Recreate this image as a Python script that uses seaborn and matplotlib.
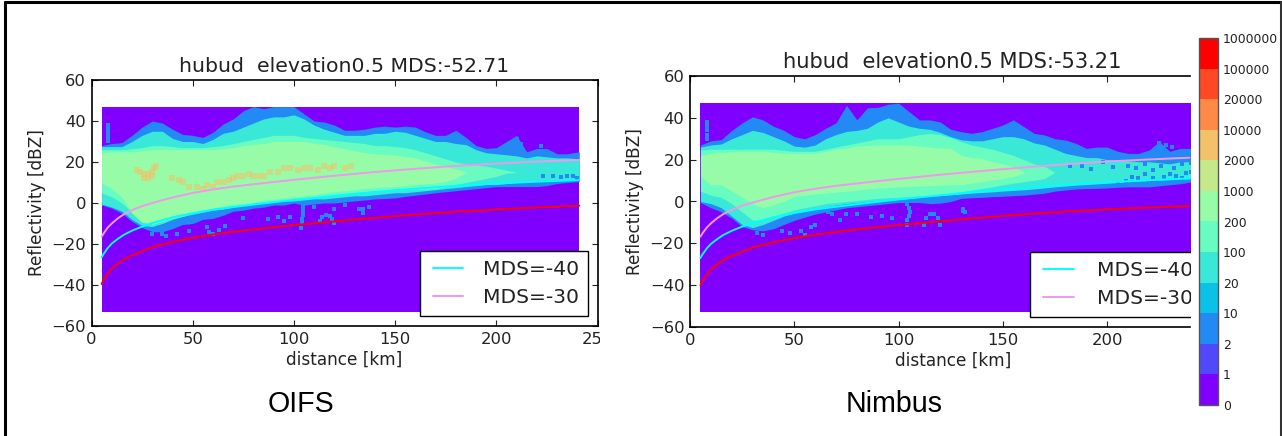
import numpy as np
import matplotlib
matplotlib.use("Agg")
import matplotlib.pyplot as plt
from matplotlib.colors import ListedColormap, BoundaryNorm
from matplotlib.colorbar import ColorbarBase
from matplotlib.legend_handler import HandlerLine2D
from matplotlib.lines import Line2D
from matplotlib.patches import Rectangle
import seaborn as sns

# ---------- data ----------
stations = [5, 10, 15, 20, 25, 30, 35, 40, 45, 50, 55, 60, 65, 70, 75, 80, 85, 90, 95, 100, 105, 110, 115, 120,
            125, 130, 135, 140, 145, 150, 155, 160, 165, 170, 175, 180, 185, 190, 195, 200, 205, 210, 215, 220,
            225, 230, 235, 241]

oifs_blue_top = [28, 29, 29.5, 33, 37, 40, 39, 36, 33.5, 33, 32, 34.5, 38.5, 41, 45, 47, 46, 47, 47, 47, 43.5, 40, 39.5, 38,
                 35.5, 35.5, 36, 37, 37.5, 37, 37.5, 37, 34.7, 33, 33, 35.5, 32, 28, 26.6, 27, 30, 33, 25, 26.6,
                 26.6, 24, 24, 25]
oifs_blue_bottom = [-1, -2.5, -5, -9, -12, -14, -14, -12.5, -10.5, -10, -8, -7.5, -6, -4, -3.5, -2.5, -2, -1, -1, 0, -1, -0.5, 0, 0,
                    0.5, 1, 1.5, 2, 2.2, 2.5, 3.2, 3.8, 4.4, 5, 5.5, 6, 6.5, 7, 7.5, 8, 8, 8, 8, 8,
                    8.5, 9.5, 10, 10.5]
oifs_turq_top = [27.5, 27.5, 27.5, 30, 33, 35, 35, 31.5, 30, 30, 29, 31, 34, 35, 37, 39, 41, 42, 42, 43, 41, 38, 36, 34.5,
                 33, 33, 33, 34, 34, 35, 34.5, 33, 31.5, 30, 30, 29, 28.5, 26, 24.5, 24, 23.5, 23, 22, 23,
                 22.5, 22, 22, 21.5]
oifs_turq_bottom = [-0.5, -2, -4, -8, -11, -11.5, -10, -8, -6.5, -5.5, -4.5, -3.5, -3, -2, -1, -0.5, 0, 0.5, 1, 1, 1.5, 2, 2, 2.5,
                    3, 3.5, 3.5, 4, 4.5, 5, 5, 5.5, 6, 6.5, 7, 7.5, 8, 8.5, 9, 9, 9.5, 10, 10, 10.5,
                    10.5, 11, 11, 11]
oifs_mint_top = [26, 26, 26, 26.5, 27, 28, 28, 27.5, 27, 27, 27, 27.5, 28, 29, 30, 31, 32, 33, 33, 33, 32, 31.5, 31, 30.5,
                 30, 29.5, 29, 28, 28, 27.5, 27, 26, 24.5, 23, 21.5, 20, 19, 18.5, 18, 17, 16, 15]
oifs_mint_bottom = [5, 3, 0, -4.5, -8.5, -10.5, -9, -7.5, -6.5, -5, -4, -3, -2.5, -1.5, -1, 0, 0.5, 1, 1.5, 2, 2.5, 3, 3.5, 4,
                    4.5, 5, 5.5, 5.8, 6, 6.3, 6.5, 6.7, 6.8, 7, 8, 9, 10, 11, 12, 13, 14.5, 15]
oifs_green_top = [24.5, 25, 25, 25, 25.5, 26, 26, 26, 26, 26, 26, 26, 26.5, 27, 28, 28.5, 29, 30, 30, 30, 30, 29, 28.5, 27.5,
                  26.5, 25.5, 24.5, 24, 23.7, 23.4, 22.7, 22, 20.5, 19, 18, 16.5, 15.3]
oifs_green_bottom = [10, 7, 3, -5, -9.5, -10, -8, -6.5, -5.5, -4.5, -3.5, -2.5, -1.5, -0.5, 0, 0.5, 1.5, 2, 2.5, 3, 3.5, 4, 5, 5.5,
                     6, 6.5, 7.2, 7.5, 7.8, 8, 8.5, 9, 9.5, 9.7, 10.5, 12, 15]

nimbus_blue_top = [27, 29, 29.6, 34, 37.6, 40.5, 39, 36, 34, 31, 30, 32, 35, 37.6, 46, 39, 44.8, 45, 46.5, 47, 43, 39, 39, 38,
                   34.5, 33.4, 32.6, 33.4, 35, 36.6, 39, 35.8, 32.6, 31.8, 30, 29.4, 27.8, 25.4, 26, 26, 24, 23, 23, 24.6,
                   28.6, 24, 25.4, 25.4]
nimbus_blue_bottom = [-0.5, -3, -5, -8, -12, -13.5, -14, -13, -11, -9, -7.5, -6, -5, -4, -3, -2.5, -2, -1.5, -1, -0.5, -0.5, -0.5, -1, -0.8,
                      0, 1.5, 1.8, 2, 2.3, 2.5, 2.8, 3, 3.5, 4, 5, 5.5, 6, 6.2, 6.3, 6.5, 6.8, 7, 7, 7,
                      7.5, 8, 8.5, 9.5]
nimbus_turq_top = [26, 27, 27.5, 30, 32, 34, 33, 31, 29, 26.5, 26, 27, 30, 32, 33.5, 34, 35, 38, 40, 38, 36, 35, 34.5, 33,
                   31, 29.5, 29, 29, 30, 31, 31, 30, 28, 27, 25, 23, 22, 21, 21, 20, 20, 19.5, 19, 19,
                   18.5, 18, 19, 19]
nimbus_turq_bottom = [0, -1, -3, -7, -11, -12.5, -11, -9, -7, -5.5, -4.5, -3.5, -2.5, -1.7, -1, -0.5, 0, 0.4, 0.7, 1, 1.5, 2, 2.5, 2.8,
                      3.2, 3.6, 4, 4.3, 4.6, 5, 5.3, 5.6, 6, 6.5, 7, 7.4, 7.8, 8.1, 8.4, 8.7, 9, 9.4, 9.7, 10,
                      10.2, 10.5, 10.7, 11]
nimbus_mint_top = [24.5, 25, 25, 25, 25, 25, 25, 25, 24.5, 24, 24, 24, 25, 26, 27, 28, 29, 30, 30, 30, 31, 32, 32.5, 32,
                   30.5, 28.6, 27, 26, 25, 23.5, 22, 20, 18, 16.7, 14]
nimbus_mint_bottom = [5, 3, 2, -1, -5, -9, -9, -7, -5.5, -4, -3, -2, -1, -0.5, 0, 0.5, 1, 1.5, 1.8, 2, 2.3, 2.6, 3, 3.3,
                      3.8, 4.7, 5.5, 6.2, 7, 8, 8.7, 9.5, 10.2, 11, 14]
nimbus_green_top = [22, 23, 23.5, 23.7, 24, 24, 24, 23.5, 23, 23, 23, 23, 24, 25, 25.5, 26.5, 26.7, 27, 27, 27, 27, 26.5, 26, 25.5,
                    25.4, 22, 21, 20.6, 19, 18, 16.7, 14]
nimbus_green_bottom = [12, 8, 8, 5, 2, -1, -3, -1.5, 0, 2.4, 3, 3.6, 4, 4.5, 5, 5.4, 6, 6.4, 6.7, 7, 7.2, 7.4, 7.6, 7.8,
                       8, 8, 8.8, 9.5, 10.3, 11, 12, 13.5]

curve_r = [5, 6, 8, 10, 13, 16, 20, 25, 30, 40, 50, 60, 70, 85, 100, 120, 140, 160, 180, 200, 220, 241]
oifs_red = [-39.5, -37.5, -34.5, -32, -29.5, -27.5, -25.5, -23.5, -21.5, -19, -17, -15.4, -14, -12.3, -10.8, -9, -7.2, -5.6, -4.3, -3.2, -2.2, -1.3]
oifs_cyan = [-26.5, -24.8, -22, -19.8, -17.5, -15.5, -13.5, -11.5, -9.8, -7, -5, -3.3, -2, -0.2, 1.5, 3.5, 5.4, 7, 8.4, 9.5, 10.4, 11.2]
oifs_pink = [-16.4, -14.8, -12, -10, -7.5, -5.5, -3.5, -1.5, 0, 2.7, 4.9, 6.6, 8, 9.7, 11.3, 13.3, 15.1, 16.7, 18.1, 19.2, 20.2, 21]
nimbus_red = [-40, -38, -35, -32.6, -30, -28, -26, -24, -22, -19.5, -17.5, -15.9, -14.5, -12.8, -11.3, -9.5, -7.7, -6.1, -4.8, -3.8, -2.9, -2.1]
nimbus_cyan = [-27, -25.3, -22.5, -20.3, -18, -16, -14, -12, -10.3, -7.5, -5.5, -3.8, -2.5, -0.7, 1, 3, 4.9, 6.6, 8, 9.2, 10.2, 11.1]
nimbus_pink = [-16.8, -15.2, -12.5, -10.5, -8, -6, -4, -2, -0.5, 2.2, 4.4, 6.1, 7.5, 9.2, 10.8, 12.8, 14.6, 16.3, 17.8, 19.1, 20.1, 21]

oifs_speck_r = [8, 8, 8, 8, 8, 104.5, 104.5, 104.5, 104, 104, 103.5, 113, 114, 116, 118, 119, 120, 30, 35, 37, 42, 48, 58, 60, 63, 57, 66,
                75, 87, 92, 95, 98, 110, 120, 132, 137, 125, 134, 134, 223, 228, 232, 235, 238, 240, 210, 212, 208, 222, 225]
oifs_speck_d = [30, 32, 34, 36, 38, -2, -4, -6, -8, -10, -12, -9, -7, -6, -6.5, -8, -10, -15, -15, -16, -15, -13.5, -14, -15, -13, -11.5, -11,
                -7.5, -8, -7, -9, -7, -2, -3, -3, -2, -1, -3, -5, 13, 13, 12.5, 13, 13, 12, 31, 29, 27, 28, 24]
nimbus_speck_r = [8, 8, 8, 8, 8, 104, 105, 105.5, 105, 104, 104, 112, 113, 115, 117, 119, 120, 32, 35, 44, 48, 53, 55, 58, 60, 72, 87, 92, 97,
                  75, 80, 66, 68, 131, 132, 131, 205, 209, 212, 215, 218, 222, 224, 227, 230, 233, 236, 238, 240, 210, 214, 218,
                  222, 226, 232, 236, 240, 198, 203, 188, 192, 182, 225, 228, 231, 226]
nimbus_speck_d = [30, 32, 34, 36, 38, -1, -3, -5, -7, -9, -11, -11, -8, -6, -6, -8, -11, -15, -16, -14, -15, -14, -16, -12, -11, -9, -7.5, -7, -8,
                  -6, -6, -5, -6, -3.5, -5, -4.5, 9, 10, 11.5, 11, 13, 11, 10, 11.5, 13, 12, 11, 13.5, 14, 17, 16, 18,
                  15, 17, 16, 18, 18.5, 19, 16.5, 17, 15.5, 17, 28, 27, 26, 26]

oifs_blotch_r = [22.5, 24, 26, 28, 30, 31, 32, 30, 28, 26, 40, 43, 45, 48, 52, 55, 57, 60, 62, 65, 68, 70, 72, 75, 78, 80, 83, 85, 88,
                 92, 95, 98, 102, 105, 108, 112, 115, 118, 120, 125, 128]
oifs_blotch_d = [16, 15, 14, 14, 15, 17, 18, 13, 12, 12, 12, 11, 10, 8, 8, 7, 9, 8, 10, 10, 11, 12, 13, 13, 14, 13, 13, 13, 15,
                 15, 17, 17, 16, 17, 17, 16, 18, 17, 18, 17, 18]

colorbar_labels = ["0", "1", "2", "10", "20", "100", "200", "1000", "2000", "10000", "20000", "100000", "1000000"]

# band indices in the 12-step colour scale
BG, BLUE, TURQ, MINT, GREEN, BEIGE = 0, 2, 4, 5, 6, 8

sns.set_theme(style="ticks", rc={"xtick.direction": "in", "ytick.direction": "in", "axes.edgecolor": "black",
                                 "xtick.color": "#222222", "ytick.color": "#222222", "text.color": "#222222",
                                 "axes.labelcolor": "#222222", "axes.linewidth": 1.2})
plt.rcParams["font.family"] = "DejaVu Sans"

W, H = 1282, 436
cmap = plt.get_cmap("rainbow", 12)
band = [cmap(i) for i in range(12)]


def axpx(x0, y0, x1, y1):
    return [x0 / W, 1 - y1 / H, (x1 - x0) / W, (y1 - y0) / H]


def panel(ax, xmax, title, title_size, tx, lx, xlx, bands, curves, speck, blotch, legend_px, handle_len, handle_pad):
    (bt, bb, tt, tb, mt, mb, gt, gb) = bands
    r = np.array(stations, float)
    ax.fill_between([5, 241], [-53, -53], [47, 47], color=band[BG], lw=0, zorder=1)
    ax.fill_between(r, bb, bt, color=band[BLUE], lw=0, zorder=2)
    ax.fill_between(r, tb, tt, color=band[TURQ], lw=0, zorder=3)
    ax.fill_between(r[:len(mt)], mb, mt, color=band[MINT], lw=0, zorder=4)
    ax.fill_between(r[:len(gt)], gb, gt, color=band[GREEN], lw=0, zorder=5)
    ax.scatter(speck[0], speck[1], marker="s", s=7, color=band[BLUE], lw=0, zorder=6)
    if blotch is not None:
        ax.scatter(blotch[0], blotch[1], marker="s", s=16, color=band[BEIGE], alpha=0.55, lw=0, zorder=6)
    red, cyan, pink = curves
    sns.lineplot(x=curve_r, y=red, color="#ff0000", lw=1.4, ax=ax, zorder=8, legend=False, errorbar=None)
    sns.lineplot(x=curve_r, y=cyan, color="#00ffff", lw=1.4, ax=ax, zorder=8, label="MDS=-40", errorbar=None)
    sns.lineplot(x=curve_r, y=pink, color="#f098ec", lw=1.4, ax=ax, zorder=8, label="MDS=-30", errorbar=None)
    ax.set_xlim(0, xmax)
    ax.set_ylim(-60, 60)
    ax.set_xticks([t for t in range(0, 251, 50) if t <= xmax])
    ax.set_yticks(range(-60, 61, 20))
    ax.tick_params(axis="both", labelsize=11.8, length=4, width=0.8, top=True, right=xmax == 250, pad=4)
    ax.set_title(title, fontsize=title_size, x=tx, pad=6, color="#222222")
    ax.set_xlabel("distance [km]", fontsize=12.2)
    ax.set_ylabel("Reflectivity [dBZ]", fontsize=12.2)
    ax.yaxis.set_label_coords(lx, 0.5)
    ax.xaxis.set_label_coords(xlx, -0.1)
    if xmax != 250:
        ax.spines["right"].set_visible(False)
    leg = ax.legend(loc="lower left", fontsize=14.6, frameon=True, fancybox=False, framealpha=1, edgecolor="black",
                    bbox_to_anchor=(legend_px[0] / W, 1 - legend_px[1] / H), bbox_transform=ax.figure.transFigure,
                    borderaxespad=0, handlelength=handle_len, handletextpad=handle_pad, borderpad=0.45, labelspacing=0.42,
                    handler_map={Line2D: HandlerLine2D(xpad=0.2)})
    leg.get_frame().set_linewidth(1.0)
    leg.set_zorder(20)


fig = plt.figure(figsize=(W / 100, H / 100), dpi=100, facecolor="white")

ax1 = fig.add_axes(axpx(91.5, 80, 597.5, 326))
panel(ax1, 250, "hubud  elevation0.5 MDS:-52.71", 14.7, 0.5, -0.09, 0.5,
      (oifs_blue_top, oifs_blue_bottom, oifs_turq_top, oifs_turq_bottom,
       oifs_mint_top, oifs_mint_bottom, oifs_green_top, oifs_green_bottom),
      (oifs_red, oifs_cyan, oifs_pink), (oifs_speck_r, oifs_speck_d), (oifs_blotch_r, oifs_blotch_d), (420, 316),
      1.65, 1.0)

ax2 = fig.add_axes(axpx(690, 76, 1190, 327))
panel(ax2, 239.7, "hubud  elevation0.5 MDS:-53.21", 15.1, 0.524, -0.092, 0.526,
      (nimbus_blue_top, nimbus_blue_bottom, nimbus_turq_top, nimbus_turq_bottom,
       nimbus_mint_top, nimbus_mint_bottom, nimbus_green_top, nimbus_green_bottom),
      (nimbus_red, nimbus_cyan, nimbus_pink), (nimbus_speck_r, nimbus_speck_d), None, (1029.5, 317),
      1.75, 1.15)

# white cover for the cropped right edges of the two images
for x0, x1, y0, y1 in [(599.5, 622, 328, 352), (1191, 1198, 0, 436), (1191, 1279, 250, 436)]:
    fig.add_artist(Rectangle((x0 / W, 1 - y1 / H), (x1 - x0) / W, (y1 - y0) / H, transform=fig.transFigure,
                             facecolor="white", edgecolor="none", zorder=30))

# colour scale
cax = fig.add_axes(axpx(1199, 38, 1217.5, 405), zorder=40)
cb = ColorbarBase(cax, cmap=ListedColormap(band), norm=BoundaryNorm(np.arange(13), 12),
                  ticks=np.arange(13), spacing="uniform", orientation="vertical")
cb.ax.set_yticklabels(colorbar_labels, fontsize=8.9, color="#222222")
cb.ax.tick_params(direction="in", length=3, width=0.6, pad=4, color="#333333")
cb.outline.set_edgecolor("#555555")
cb.outline.set_linewidth(1.0)

fig.text(301 / W, 1 - 404 / H, "OIFS", family="Liberation Sans", fontsize=20.6, color="black", ha="center", va="center", zorder=50)
fig.text(894 / W, 1 - 404 / H, "Nimbus", family="Liberation Sans", fontsize=20.6, color="black", ha="center", va="center", zorder=50)

# slide frame
for xs, ys, c in [([4.5, 4.5], [2, 436], "black"), ([4.5, 1280.5], [2, 2], "black"), ([1280.5, 1280.5], [2, 436], "#333333")]:
    fig.add_artist(Line2D([x / W for x in xs], [1 - y / H for y in ys], transform=fig.transFigure,
                          color=c, lw=2.2, zorder=60))

fig.savefig("out.png", dpi=100, facecolor="white")
